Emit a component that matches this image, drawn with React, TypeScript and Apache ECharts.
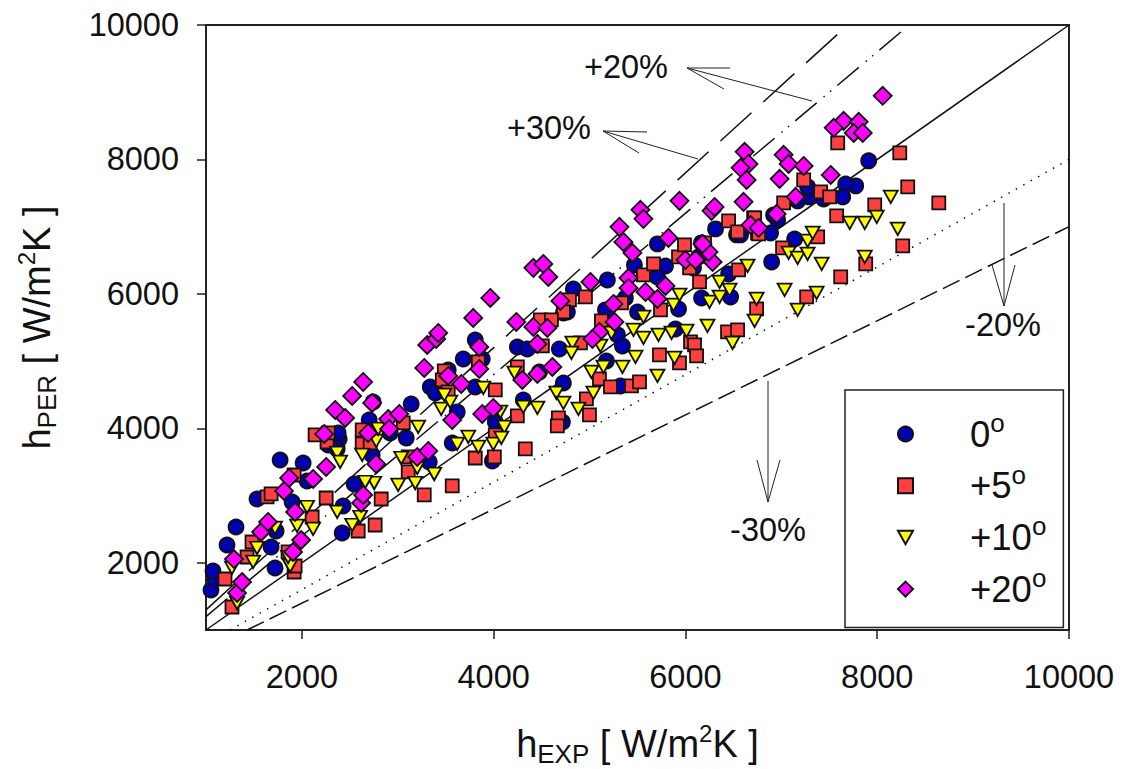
import React, { useEffect, useRef } from "react";
import * as echarts from "echarts";

const tickValues = [2000, 4000, 6000, 8000, 10000];
const seriesNames = ["0", "+5", "+10", "+20"];

const deg0 = [[1052,1595],[1094,1759],[1073,1878],[1219,2265],[1313,2533],[1720,1923],[1679,2235],[1731,2473],[1532,2949],[1898,2905],[1773,3530],[2013,3485],[2054,3217],[2420,2443],[2430,2845],[2545,3172],[2274,3753],[2389,3842],[2378,3931],[2368,3693],[2702,4125],[2921,3931],[3088,3857],[3140,4363],[3568,3783],[3328,3500],[3620,4244],[4017,4095],[3986,3515],[2733,3604],[3808,5315],[3683,5032],[3881,5032],[3526,4869],[3339,4616],[3391,4527],[2743,4393],[3808,4616],[5186,6208],[4831,6074],[4727,5717],[4769,5732],[5166,5762],[4247,5211],[4351,5181],[4685,5181],[4477,4839],[4309,4422],[4727,4675],[5176,5003],[5291,5390],[5343,5226],[5322,4631],[4717,4095],[5468,6431],[5792,6416],[5708,6253],[6136,6550],[6450,6297],[6471,5955],[6168,5940],[5928,5776],[5500,5732],[5374,5940],[5896,5479],[6314,6967],[5708,6744],[6084,6387],[6533,6878],[6575,6878],[7911,7979],[7776,7607],[7671,7636],[7640,7443],[7285,7443],[7274,7592],[7170,7384],[7441,7413],[6961,7101],[6919,7175],[6888,6907],[7139,6818],[6899,6476],[6168,6759]];

const deg5 = [[1271,1342],[1198,1759],[1428,2086],[1480,2309],[1919,1863],[1929,1952],[1856,2161],[1637,2979],[1679,3024],[1919,3306],[2107,2681],[2253,2964],[2138,3902],[2263,3797],[2274,3931],[2587,2473],[2764,2562],[2827,2949],[2629,3768],[2629,3976],[2712,3783],[3057,4080],[3109,3351],[3109,3574],[3276,3009],[3568,3143],[3808,3559],[4007,3574],[4017,3902],[3840,4988],[3485,4854],[3464,4720],[3526,4541],[4017,4571],[4957,5955],[4790,5910],[4727,5732],[4487,5613],[4602,5613],[4508,5226],[4247,4913],[4247,4184],[4330,3693],[4675,4155],[4664,4036],[4999,4199],[4967,4437],[5103,4735],[5218,4616],[5437,4631],[5521,4690],[5124,5598],[4905,5271],[5333,5866],[5562,6282],[5667,6446],[5928,6550],[6043,6387],[6147,6178],[5740,5762],[5729,5092],[6439,5434],[6544,5464],[6053,5285],[6095,5241],[6116,5077],[5938,4973],[6554,6357],[5990,6729],[6450,7086],[6199,6759],[6711,7131],[6752,6907],[7588,8247],[8235,8098],[8318,7592],[8642,7354],[7233,7696],[7410,7517],[7504,7443],[7577,7160],[7974,7324],[7024,7354],[6721,7131],[6544,6922],[6763,6892],[7379,6848],[7013,6684],[8266,6714],[7880,6446],[7619,6253],[7264,5955],[6742,5776]];

const deg10 = [[1324,1402],[1271,1923],[1491,2012],[1532,2220],[1720,2518],[1877,1952],[1856,2086],[1950,2548],[2054,2830],[2117,2503],[2368,2756],[2368,3634],[2399,3500],[2524,2562],[2608,2681],[2754,3187],[2660,3202],[3004,3158],[3182,3187],[3203,3411],[3380,3321],[3036,3559],[2629,3604],[2775,3812],[2796,3991],[3213,4021],[3453,4288],[3547,4393],[3620,3768],[3735,3872],[3840,3723],[3996,3768],[3892,4601],[3485,4497],[4069,4244],[4111,4021],[4080,3857],[4216,4824],[4309,4318],[4456,4303],[4654,4527],[4727,4378],[4884,4288],[5040,4527],[5019,4839],[5145,4913],[5343,4913],[5479,5062],[5708,4780],[5886,5047],[5458,5464],[5562,5345],[5719,5390],[5855,5419],[6011,5449],[6230,5524],[6491,5271],[4821,5271],[4811,5122],[5113,5226],[5228,5419],[5562,5657],[5875,5836],[5938,5985],[6251,5881],[6356,5955],[6356,6178],[6460,6059],[6648,6416],[6742,5925],[6721,5598],[7034,6059],[7368,6015],[7170,5762],[7076,6610],[7170,6535],[7274,6595],[7274,6788],[7327,6907],[7421,6446],[7870,6550],[7713,7056],[7870,7056],[7995,7145],[8141,7443],[8214,6967]];

const deg20 = [[1324,1551],[1376,1714],[1292,2056],[1574,2458],[1647,2607],[1908,2161],[1992,2339],[1929,2756],[1814,3068],[1867,3262],[2117,3247],[2253,3425],[2232,3916],[2347,4274],[2451,4155],[2524,4482],[2733,4378],[2900,4140],[3015,4214],[2910,3991],[2691,3931],[2775,3470],[2618,2890],[2639,3009],[3203,3574],[3318,3663],[3568,4125],[3881,4214],[3996,4303],[3965,5940],[3787,5643],[3850,5211],[3850,4884],[3662,4660],[3526,4780],[3276,4899],[3307,5241],[3401,5330],[3422,5419],[2639,4690],[4414,6387],[4518,6446],[4570,6253],[5009,6178],[4696,5895],[4236,5583],[4414,5509],[4560,5494],[4456,5256],[4299,4720],[4456,4809],[4612,4913],[5447,6610],[6001,6506],[6105,6506],[6283,6476],[5406,6238],[5406,6089],[5583,6029],[5792,6119],[5708,5925],[5249,5851],[5260,5583],[5103,5434],[5030,5330],[6241,6625],[5531,7250],[5562,7116],[5938,7384],[5312,6997],[5353,6773],[5823,6833],[6272,7235],[6304,7294],[6606,7369],[6617,8113],[6658,7934],[6575,7875],[6638,7696],[6178,6744],[6679,7026],[6763,6982],[8057,8946],[7650,8574],[7807,8559],[7546,8470],[7755,8395],[7849,8395],[7024,8068],[7076,7934],[7233,7904],[6982,7711],[7515,7770],[7149,7443],[6951,7190]];

const lineParity = [[1000,1000],[10000,10000]];
const linePlus20 = [[1000,1200],[8275,9930]];
const linePlus30 = [[1000,1300],[7640,9932]];
const lineMinus20 = [[1250,1000],[10000,8000]];
const lineMinus30 = [[1429,1000],[10000,7000]];

const FONT = '"Liberation Sans", Arial, sans-serif';
const INK = "#111111";
const AXIS = "#222222";
const TRI = "path://M0,0 L10,0 L5,9 Z";

const refLine = (name: string, data: number[][], type: any) => ({
  name, type: "line", data, symbol: "none", z: 1, silent: true,
  lineStyle: { color: INK, width: 1.5, type },
});
const pts = (name: string, data: number[][], symbol: string, symbolSize: any, color: string, z: number) => ({
  name, type: "scatter", data, symbol, symbolSize, z,
  itemStyle: { color, opacity: 1, borderColor: "#111", borderWidth: 1.8 },
});
const note = (text: string, x: number, y: number) => ({
  type: "text", x, y, z: 20,
  style: { text, fill: INK, font: `32.5px ${FONT}`, textAlign: "center", textVerticalAlign: "middle" },
});
const wire = (points: number[][]) => ({
  type: "polyline", z: 20, silent: true,
  shape: { points }, style: { stroke: "#222", lineWidth: 1, fill: "none" },
});
const axisRich = {
  a: { fontSize: 38, fontFamily: FONT, color: INK },
  sub: { fontSize: 26, fontFamily: FONT, color: INK, padding: [19, 0, 0, 0] },
  sup: { fontSize: 24, fontFamily: FONT, color: INK, padding: [0, 0, 22, 0] },
};
const axisBase = {
  type: "value", min: 1000, max: 10000, nameLocation: "middle",
  splitLine: { show: false },
  axisLine: { show: true, onZero: false, lineStyle: { color: AXIS, width: 2 } },
  axisTick: { show: true, inside: false, length: 9, customValues: tickValues, lineStyle: { color: AXIS, width: 1.5 } },
  axisLabel: { customValues: tickValues, formatter: (v: number) => String(v), fontSize: 32.5, fontFamily: FONT, color: INK, showMinLabel: true, showMaxLabel: true },
  nameTextStyle: { rich: axisRich },
};

export default function App() {
  const ref = useRef<HTMLDivElement>(null);
  useEffect(() => {
    const chart = echarts.init(ref.current!, undefined, { renderer: "svg" });
    chart.setOption({
      animation: false,
      backgroundColor: "#fff",
      grid: { left: 206, right: 53, top: 25, bottom: 139, outerBoundsMode: "none", containLabel: false, show: true, borderColor: AXIS, borderWidth: 2, backgroundColor: "transparent" },
      xAxis: { ...axisBase, name: "{a|h}{sub|EXP}{a| [ W/m}{sup|2}{a|K ]}", nameGap: 91, axisLabel: { ...axisBase.axisLabel, margin: 30 } },
      yAxis: { ...axisBase, name: "{a|h}{sub|PER}{a| [ W/m}{sup|2}{a|K ]}", nameRotate: 90, nameGap: 146, axisLabel: { ...axisBase.axisLabel, margin: 27 } },
      legend: {
        show: true, orient: "vertical", left: 845, top: 390,
        data: seriesNames,
        itemWidth: 15, itemHeight: 15, itemGap: 9.2,
        padding: [20, 17, 20, 52],
        backgroundColor: "#fff", borderColor: "#222", borderWidth: 1.5, borderRadius: 0,
        selectedMode: false,
        formatter: (n: string) => `{a|${n}}{o|o}`,
        textStyle: {
          rich: {
            a: { fontSize: 36.5, fontFamily: FONT, color: INK, padding: [0, 0, 0, 52] },
            o: { fontSize: 26, fontFamily: FONT, color: INK, padding: [0, 0, 22, 0] },
          },
        },
      },
      series: [
        refLine("parity", lineParity, "solid"),
        refLine("+20%", linePlus20, [28, 9, 1.5, 7, 1.5, 8]),
        refLine("+30%", linePlus30, [42, 16]),
        refLine("-20%", lineMinus20, [1.5, 7]),
        refLine("-30%", lineMinus30, [18.5, 6.5]),
        pts(seriesNames[0], deg0, "circle", 15, "#0000B0", 2),
        pts(seriesNames[1], deg5, "rect", 13, "#FF4040", 3),
        pts(seriesNames[2], deg10, TRI, [14, 12.5], "#FFFF00", 4),
        pts(seriesNames[3], deg20, "diamond", 18, "#FF00FF", 5),
      ],
      graphic: [
        note("+20%", 626, 67), note("+30%", 549, 128), note("-20%", 1003, 325), note("-30%", 768, 530),
        wire([[730, 68], [687, 68], [812, 101]]), wire([[687, 68], [724, 89]]),
        wire([[647, 132], [603, 131], [698, 159]]), wire([[603, 131], [639, 153]]),
        wire([[1004, 203], [1004, 306]]), wire([[992, 265], [1004, 306], [1015, 265]]),
        wire([[768, 381], [768, 502]]), wire([[757, 460], [768, 502], [780, 460]]),
      ],
    });
    return () => chart.dispose();
  }, []);
  return <div ref={ref} style={{ position: "fixed", left: 0, top: 0, width: 1122, height: 769 }} />;
}
